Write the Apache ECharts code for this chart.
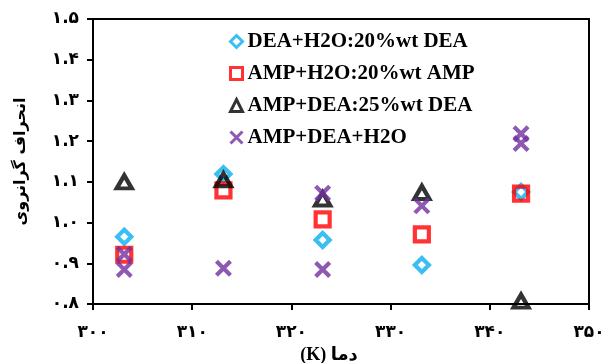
<!DOCTYPE html>
<html>
<head>
<meta charset="utf-8">
<script src="https://cdn.jsdelivr.net/npm/echarts@6/dist/echarts.min.js"></script>
<style>
  html, body { margin: 0; padding: 0; background: #fff; }
  #chart { width: 613px; height: 363px; }
</style>
</head>
<body>
<div id="chart"></div>
<script>
// Temperatures (K) of the measurements
const temperatures = [303.15, 313.15, 323.15, 333.15, 343.15];

// Viscosity deviation of each binary system
const deaWater = [0.965, 1.119, 0.957, 0.896, 1.075];
const ampWater = [0.921, 1.079, 1.008, 0.971, 1.071];
const ampDea   = [1.100, 1.105, 1.058, 1.074, 0.807];

// Ternary system: several compositions per temperature
const mixTemps  = [303.15, 303.15, 313.15, 323.15, 323.15, 333.15, 343.15, 343.15];
const mixValues = [0.922, 0.885, 0.888, 1.072, 0.885, 1.041, 1.218, 1.194];

const seriesNames = [
  'DEA+H2O:20%wt DEA',
  'AMP+H2O:20%wt AMP',
  'AMP+DEA:25%wt DEA',
  'AMP+DEA+H2O'
];

// Tick values and their Persian labels
const xTicks = [300, 310, 320, 330, 340, 350];
const xTickLabels = ['۳۰۰', '۳۱۰', '۳۲۰', '۳۳۰', '۳۴۰', '۳۵۰'];
const yTicks = [0.8, 0.9, 1.0, 1.1, 1.2, 1.3, 1.4, 1.5];
const yTickLabels = ['۰.۸', '۰.۹', '۱.۰', '۱.۱', '۱.۲', '۱.۳', '۱.۴', '۱.۵'];

const xName = '(K) دما';
const yName = 'انحراف گرانروی';

const pair = (xs, ys) => xs.map((x, i) => [x, ys[i]]);
const lookup = (ticks, labels) => v => {
  const i = ticks.findIndex(t => Math.abs(t - v) < 1e-6);
  return i >= 0 ? labels[i] : '';
};

const crossPath = 'path://M0,0L10,10M10,0L0,10';
const hollow = (c, w) => ({ color: 'rgba(255,255,255,0)', borderColor: c, borderWidth: w || 4.2 });

const labelFont = { fontFamily: 'DejaVu Sans', fontWeight: 'bold', fontSize: 17, color: '#000' };

const chart = echarts.init(document.getElementById('chart'), null, { renderer: 'canvas' });
chart.setOption({
  animation: false,
  backgroundColor: '#fff',
  grid: {
    left: 93, right: 24, top: 19, bottom: 59,
    outerBoundsMode: 'none',
    containLabel: false,
    show: true, borderColor: '#000', borderWidth: 2, backgroundColor: 'transparent'
  },
  legend: {
    orient: 'vertical',
    left: 229, top: 30,
    padding: 0,
    itemGap: 9,
    itemWidth: 12, itemHeight: 12,
    itemTextGap: 5,
    itemStyle: { borderWidth: 3 },
    textStyle: { fontFamily: 'Liberation Serif', fontWeight: 'bold', fontSize: 21, color: '#000', lineHeight: 23 },
    data: seriesNames
  },
  xAxis: {
    type: 'value',
    min: 300, max: 350, interval: 10,
    name: xName,
    nameLocation: 'middle',
    nameGap: 38,
    nameTextStyle: { fontFamily: 'Liberation Serif, DejaVu Sans', fontWeight: 'bold', fontSize: 18, color: '#000', padding: [0, 24, 0, 0] },
    axisLine: { lineStyle: { color: '#000', width: 2 } },
    axisTick: { show: true, length: 6, lineStyle: { color: '#000', width: 2 } },
    axisLabel: Object.assign({ margin: 20, formatter: lookup(xTicks, xTickLabels) }, labelFont),
    splitLine: { show: false }
  },
  yAxis: {
    type: 'value',
    min: 0.8, max: 1.5, interval: 0.1,
    name: yName,
    nameLocation: 'middle',
    nameGap: 64,
    nameTextStyle: { fontFamily: 'DejaVu Sans', fontWeight: 'bold', fontSize: 16, color: '#000' },
    axisLine: { show: true, lineStyle: { color: '#000', width: 2 } },
    axisTick: { show: true, length: 6, lineStyle: { color: '#000', width: 2 } },
    axisLabel: Object.assign({ margin: 14, formatter: lookup(yTicks, yTickLabels) }, labelFont),
    splitLine: { show: false }
  },
  series: [
    {
      name: seriesNames[0], type: 'scatter', symbol: 'diamond', symbolSize: 14,
      itemStyle: hollow('#0AAEEF'),
      data: pair(temperatures, deaWater)
    },
    {
      name: seriesNames[1], type: 'scatter', symbol: 'rect', symbolSize: 14,
      itemStyle: hollow('#FF0000'),
      data: pair(temperatures, ampWater)
    },
    {
      name: seriesNames[2], type: 'scatter', symbol: 'triangle', symbolSize: [15, 13],
      itemStyle: hollow('#000000'),
      data: pair(temperatures, ampDea)
    },
    {
      name: seriesNames[3], type: 'scatter', symbol: crossPath, symbolSize: 14,
      itemStyle: hollow('#7030A0'),
      data: pair(mixTemps, mixValues)
    }
  ]
});
</script>
</body>
</html>
